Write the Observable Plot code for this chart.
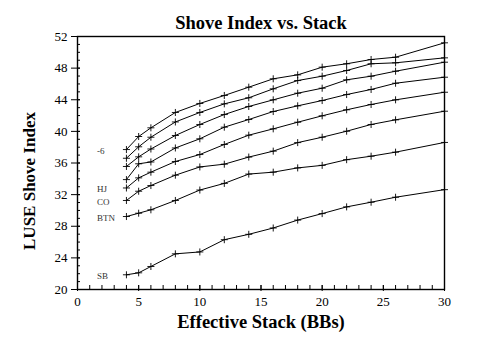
<!DOCTYPE html>
<html>
<head>
<meta charset="utf-8">
<script src="https://cdn.jsdelivr.net/npm/d3@7"></script>
<script src="https://cdn.jsdelivr.net/npm/@observablehq/plot@0.6"></script>
<style>
  html, body { margin: 0; padding: 0; background: #fff; }
</style>
</head>
<body>
<div id="chart"></div>
<script>
// Data
const stacks = [4, 5, 6, 8, 10, 12, 14, 16, 18, 20, 22, 24, 26, 30];
const seriesNames = ["-6", "-5", "-4", "-3", "HJ", "CO", "BTN", "SB"];
const shownLabels = ["-6", "", "", "", "HJ", "CO", "BTN", "SB"];
const s6  = [37.7, 39.35, 40.45, 42.39, 43.53, 44.54, 45.59, 46.65, 47.15, 48.12, 48.55, 49.09, 49.38, 51.2];
const s5  = [36.6, 38.05, 39.26, 41.19, 42.39, 43.48, 44.25, 45.38, 46.43, 46.98, 47.7, 48.55, 48.67, 49.3];
const s4  = [35.56, 36.78, 37.77, 39.48, 40.87, 42.13, 43.15, 43.99, 44.83, 45.46, 46.52, 46.98, 47.61, 48.75];
const s3  = [33.9, 35.9, 36.13, 37.9, 39.06, 40.53, 41.5, 42.51, 43.23, 43.9, 44.66, 45.3, 46.09, 46.85];
const sHJ = [32.84, 34.12, 34.84, 36.19, 37.07, 38.34, 39.52, 40.32, 41.16, 41.97, 42.73, 43.4, 43.99, 44.95];
const sCO = [31.26, 32.43, 33.15, 34.46, 35.5, 35.85, 36.75, 37.5, 38.58, 39.26, 40.02, 40.87, 41.46, 42.55];
const sBTN = [29.23, 29.65, 30.08, 31.26, 32.58, 33.42, 34.6, 34.84, 35.38, 35.7, 36.42, 36.86, 37.37, 38.6];
const sSB = [21.86, 22.11, 22.91, 24.51, 24.75, 26.3, 26.98, 27.78, 28.78, 29.6, 30.45, 31.04, 31.67, 32.63];
const allSeries = [s6, s5, s4, s3, sHJ, sCO, sBTN, sSB];

const xMajor = [0, 5, 10, 15, 20, 25, 30];
const xMinor = d3.range(0, 31);
const yMajor = [20, 24, 28, 32, 36, 40, 44, 48, 52];
const yMinor = d3.range(20, 53);

const title = "Shove Index vs. Stack";
const xTitle = "Effective Stack (BBs)";
const yTitle = "LUSE Shove Index";

const rows = [];
allSeries.forEach((vals, i) => {
  vals.forEach((v, j) => rows.push({series: seriesNames[i], stack: stacks[j], value: v}));
});
const labelRows = allSeries
  .map((vals, i) => ({label: shownLabels[i], stack: 1.6, value: vals[0]}))
  .filter(d => d.label);

const chart = Plot.plot({
  width: 489,
  height: 344,
  marginLeft: 77,
  marginRight: 45,
  marginTop: 36,
  marginBottom: 55,
  style: {fontFamily: "'Liberation Serif', 'Times New Roman', serif", fontSize: "13px", background: "#fff", color: "#000"},
  x: {domain: [0, 30], label: null},
  y: {domain: [20, 52], label: null},
  marks: [
    Plot.frame({stroke: "#000", strokeWidth: 1.4}),
    Plot.axisX({ticks: xMinor, tickSize: 4, dy: -4, fill: "none", label: null}),
    Plot.axisX({ticks: xMajor, tickSize: 6, dy: -4, tickPadding: 5, fontSize: 13, label: null, tickFormat: d => String(d)}),
    Plot.axisY({ticks: yMinor, tickSize: 3, dx: 3, fill: "none", label: null}),
    Plot.axisY({ticks: yMajor, tickSize: 9, dx: 3, tickPadding: 4, fontSize: 13, label: null, tickFormat: d => String(d)}),
    Plot.line(rows, {x: "stack", y: "value", z: "series", stroke: "#000", strokeWidth: 1}),
    Plot.dot(rows, {x: "stack", y: "value", symbol: "plus", r: 2.4, stroke: "#000", strokeWidth: 0.9}),
    Plot.text(labelRows, {x: "stack", y: "value", text: "label", textAnchor: "start", fontSize: 9, dy: 1.5, fill: "#333"}),
    Plot.text([title], {frameAnchor: "top", textAnchor: "middle", lineAnchor: "middle", dy: -13, fontSize: 18.5, fontWeight: "bold"}),
    Plot.text([xTitle], {frameAnchor: "bottom", textAnchor: "middle", lineAnchor: "middle", dy: 33, fontSize: 18.5, fontWeight: "bold"}),
    Plot.text([yTitle], {frameAnchor: "left", textAnchor: "middle", lineAnchor: "middle", dx: -47.5, dy: 18, rotate: -90, fontSize: 17, fontWeight: "bold"})
  ]
});
document.getElementById("chart").append(chart);
</script>
</body>
</html>
